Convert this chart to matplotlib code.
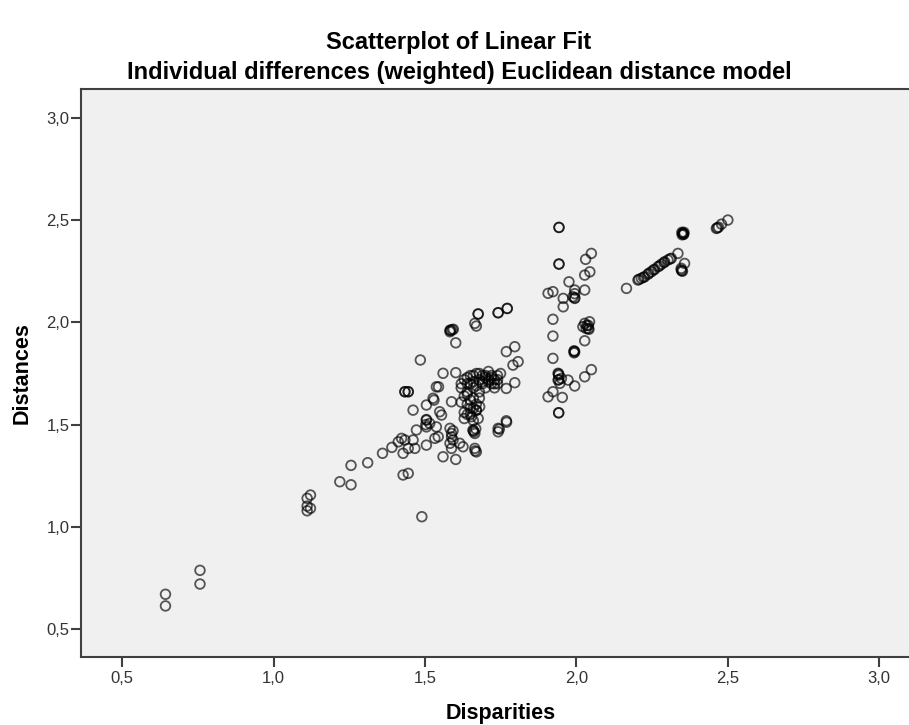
import numpy as np
import matplotlib
matplotlib.use('Agg')
import matplotlib.pyplot as plt
from matplotlib.ticker import FuncFormatter

plt.rcParams['font.family'] = ['Liberation Sans', 'DejaVu Sans']

# Disparities (x) and Distances (y)
disparities = [
    0.643, 0.643, 0.757, 0.757,
    1.111, 1.122, 1.111, 1.122, 1.111,
    1.219, 1.256, 1.256, 1.311, 1.360, 1.391, 1.412, 1.490,
    1.423, 1.434, 1.428, 1.445, 1.461, 1.467, 1.428, 1.445, 1.505,
    1.485, 1.583, 1.594, 1.583, 1.602, 1.665, 1.676, 1.670, 1.742, 1.772,
    1.769, 1.797, 1.808, 1.791,
    1.560, 1.602, 1.797, 1.769,
    1.538, 1.545, 1.434, 1.445,
    1.527, 1.530, 1.588, 1.461, 1.505,
    1.549, 1.555, 1.505, 1.505, 1.516, 1.472,
    1.538, 1.544, 1.533,
    1.583, 1.588, 1.593, 1.583, 1.588,
    1.615, 1.626, 1.659, 1.665, 1.662,
    1.654, 1.676, 1.670, 1.681,
    1.665, 1.670,
    1.769, 1.742, 1.742,
    1.560, 1.602,
    1.63, 1.64, 1.65, 1.66, 1.66, 1.67, 1.68, 1.69, 1.70, 1.71,
    1.72, 1.73, 1.74, 1.73, 1.72, 1.70, 1.68, 1.64, 1.63, 1.65,
    1.64, 1.66, 1.63, 1.65, 1.67, 1.68, 1.62, 1.62, 1.63, 1.66,
    1.71, 1.69, 1.74, 1.75, 1.62,
    # overlapping duplicates in the middle group
    1.585, 1.590, 1.676, 1.742, 1.772, 1.505, 1.503, 1.588, 1.593,
    1.660, 1.668, 1.666, 1.746, 1.770, 1.64, 1.66, 1.68, 1.70, 1.72,
    1.74, 1.65, 1.67, 1.69, 1.71, 1.73, 1.64, 1.66, 1.65, 1.64, 1.67,
    1.434, 1.445,
    1.943, 1.943, 2.050, 2.031, 2.045, 2.028, 1.976, 1.995, 1.995, 1.989,
    2.028, 1.907, 1.923, 1.957, 1.957, 1.923, 1.923, 1.923,
    2.028, 2.033, 2.044, 2.022, 2.042, 2.035,
    2.028, 1.993, 1.993, 1.995,
    2.050, 2.028, 1.995, 1.973, 1.940, 1.940, 1.946, 1.942, 1.951,
    1.907, 1.923, 1.954, 1.942,
    # overlapping duplicates in the right column
    1.943, 1.943, 1.995, 1.995, 1.942, 1.942, 1.942, 1.993, 2.040, 2.040,
    2.166, 2.204, 2.215, 2.226, 2.237, 2.248, 2.259, 2.270, 2.281, 2.292,
    2.303, 2.314, 2.336,
    2.207, 2.222, 2.240, 2.255, 2.275, 2.290, 2.310,
    2.350, 2.353, 2.356, 2.349, 2.355, 2.352, 2.354,
    2.347, 2.351, 2.358, 2.347, 2.349,
    2.463, 2.470, 2.480, 2.501, 2.466,
]
distances = [
    0.671, 0.614, 0.788, 0.721,
    1.140, 1.156, 1.102, 1.091, 1.079,
    1.221, 1.301, 1.206, 1.314, 1.360, 1.389, 1.416, 1.050,
    1.433, 1.425, 1.360, 1.384, 1.425, 1.384, 1.254, 1.262, 1.400,
    1.816, 1.962, 1.966, 1.954, 1.900, 1.995, 2.041, 1.982, 2.047, 2.068,
    1.857, 1.881, 1.808, 1.791,
    1.751, 1.754, 1.705, 1.677,
    1.685, 1.685, 1.661, 1.661,
    1.629, 1.620, 1.612, 1.571, 1.596,
    1.563, 1.547, 1.522, 1.489, 1.506, 1.474,
    1.489, 1.441, 1.433,
    1.482, 1.457, 1.425, 1.409, 1.384,
    1.409, 1.392, 1.474, 1.457, 1.465,
    1.539, 1.530, 1.571, 1.588,
    1.384, 1.367,
    1.519, 1.482, 1.465,
    1.343, 1.330,
    1.72, 1.70, 1.74, 1.71, 1.68, 1.75, 1.72, 1.70, 1.73, 1.76,
    1.74, 1.72, 1.70, 1.68, 1.70, 1.68, 1.66, 1.66, 1.64, 1.62,
    1.60, 1.58, 1.56, 1.55, 1.60, 1.63, 1.68, 1.61, 1.53, 1.52,
    1.71, 1.74, 1.74, 1.75, 1.70,
    1.960, 1.964, 2.041, 2.047, 2.068, 1.525, 1.500, 1.440, 1.470,
    1.470, 1.480, 1.372, 1.478, 1.512, 1.73, 1.74, 1.75, 1.74, 1.73,
    1.72, 1.70, 1.69, 1.71, 1.72, 1.70, 1.65, 1.63, 1.58, 1.55, 1.57,
    1.661, 1.661,
    2.464, 2.285, 2.337, 2.308, 2.247, 2.231, 2.198, 2.158, 2.117, 2.125,
    2.158, 2.142, 2.150, 2.117, 2.076, 2.015, 1.933, 1.824,
    1.995, 1.970, 2.003, 1.979, 1.966, 1.985,
    1.910, 1.861, 1.851, 1.856,
    1.769, 1.734, 1.689, 1.718, 1.751, 1.718, 1.702, 1.742, 1.726,
    1.636, 1.661, 1.633, 1.558,
    2.464, 2.285, 2.120, 2.140, 1.748, 1.720, 1.558, 1.858, 1.985, 1.970,
    2.166, 2.207, 2.215, 2.223, 2.235, 2.247, 2.259, 2.272, 2.284, 2.296,
    2.305, 2.313, 2.337,
    2.210, 2.220, 2.240, 2.256, 2.276, 2.292, 2.310,
    2.428, 2.435, 2.440, 2.440, 2.430, 2.436, 2.432,
    2.256, 2.250, 2.288, 2.264, 2.252,
    2.459, 2.465, 2.480, 2.500, 2.462,
]

ticks = [0.5, 1.0, 1.5, 2.0, 2.5, 3.0]

fig = plt.figure(figsize=(9.09, 7.25), dpi=100)
ax = fig.add_axes([0.0888, 0.0934, 0.9244, 0.7834])
ax.set_facecolor('#f0f0f0')

ax.scatter(disparities, distances, s=48, facecolors='none',
           edgecolors='black', linewidths=1.3, alpha=0.65)

ax.set_xlim(0.363, 3.139)
ax.set_ylim(0.363, 3.139)
ax.set_xticks(ticks)
ax.set_yticks(ticks)
comma = FuncFormatter(lambda v, p: f"{v:.1f}".replace('.', ','))
ax.xaxis.set_major_formatter(comma)
ax.yaxis.set_major_formatter(comma)
ax.tick_params(direction='out', length=7, width=1.5, color='#404040',
               labelsize=12, labelcolor='#333333', pad=1)
ax.tick_params(axis='x', pad=3)

for side in ['left', 'bottom', 'top']:
    ax.spines[side].set_color('#404040')
    ax.spines[side].set_linewidth(1.5)
ax.spines['right'].set_visible(False)

ax.set_xlabel('Disparities', fontsize=15.5, fontweight='bold', labelpad=12)
ax.set_ylabel('Distances', fontsize=15.5, fontweight='bold', labelpad=10)

fig.text(0.505, 0.942, 'Scatterplot of Linear Fit', ha='center', va='center',
         fontsize=17, fontweight='bold')
fig.text(0.505, 0.900, 'Individual differences (weighted) Euclidean distance model',
         ha='center', va='center', fontsize=17, fontweight='bold')

fig.savefig('out.png', dpi=100)
